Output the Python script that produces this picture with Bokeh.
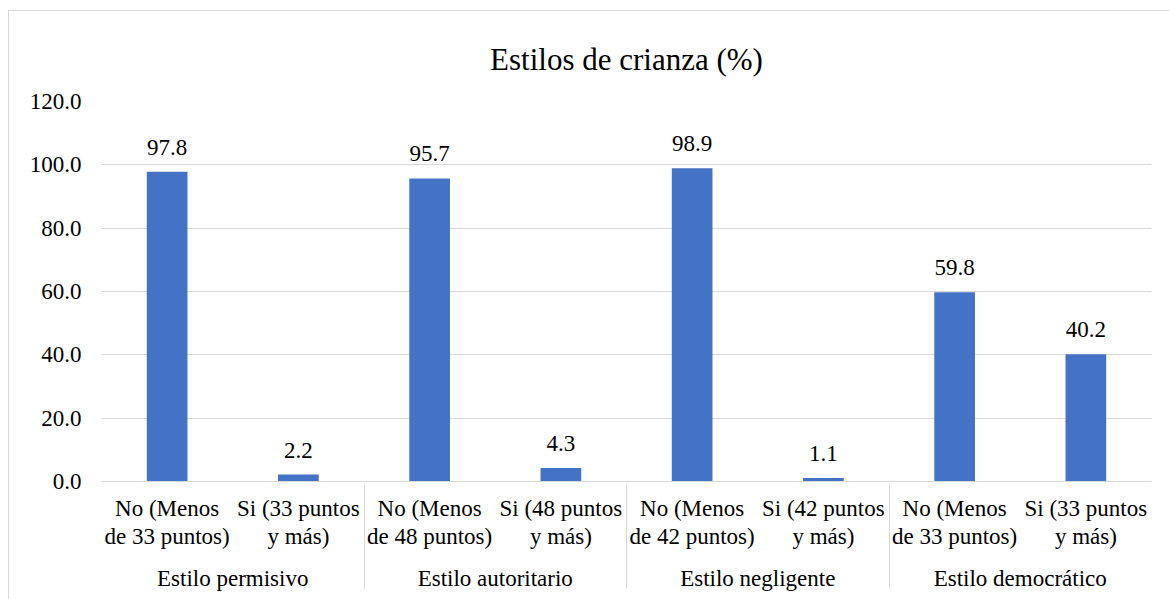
from bokeh.plotting import figure
from bokeh.models import FactorRange, ColumnDataSource, LabelSet, FixedTicker, NumeralTickFormatter
from bokeh.embed import file_html
from bokeh.resources import INLINE

# ---- data ----
title_text = "Estilos de crianza (%)"
groups = ["Estilo permisivo", "Estilo autoritario", "Estilo negligente", "Estilo democrático"]
sub_no = ["No (Menos\nde 33 puntos)", "No (Menos\nde 48 puntos)", "No (Menos\nde 42 puntos)", "No (Menos\nde 33 puntos)"]
sub_si = ["Si (33 puntos\ny más)", "Si (48 puntos\ny más)", "Si (42 puntos\ny más)", "Si (33 puntos\ny más)"]
values_no = [97.8, 95.7, 98.9, 59.8]
values_si = [2.2, 4.3, 1.1, 40.2]
y_ticks = [0, 20, 40, 60, 80, 100, 120]

factors = []
vals = []
for g, n, s, vn, vs in zip(groups, sub_no, sub_si, values_no, values_si):
    factors.append((g, n)); vals.append(vn)
    factors.append((g, s)); vals.append(vs)
labels = [f"{v:.1f}" for v in vals]

src = ColumnDataSource(dict(x=factors, top=vals, label=labels))

FONT = "Liberation Serif"
BLUE = "#4472C4"
GRID = "#d9d9d9"

p = figure(
    x_range=FactorRange(*factors, range_padding=0, factor_padding=0,
                        subgroup_padding=0, group_padding=0),
    y_range=(0, 120),
    width=1161, height=589,
    output_backend="svg", toolbar_location=None, tools="",
    min_border_left=92, min_border_right=19, min_border_top=90, min_border_bottom=119,
)
p.styles = {"margin-left": "8px", "margin-top": "10px",
            "border-top": f"1px solid {GRID}", "border-left": f"1px solid {GRID}"}
p.outline_line_color = None

p.title.text = title_text
p.title.text_font = FONT
p.title.text_font_size = "31px"
p.title.text_font_style = "normal"
p.title.text_color = "#000000"
p.title.align = "center"
p.title.standoff = 50

p.vbar(x="x", top="top", width=0.31, source=src, fill_color=BLUE, line_color=None)

p.add_layout(LabelSet(x="x", y="top", text="label", source=src, y_offset=17,
                      text_align="center", text_baseline="alphabetic",
                      text_font=FONT, text_font_size="23px", text_color="#000000"))

# grids
p.xgrid.grid_line_color = None
p.ygrid.grid_line_color = GRID
p.ygrid.grid_line_width = 1

# y axis
ya = p.yaxis[0]
ya.ticker = FixedTicker(ticks=y_ticks)
ya.formatter = NumeralTickFormatter(format="0.0")
ya.axis_line_color = None
ya.major_tick_line_color = None
ya.minor_tick_line_color = None
ya.major_tick_out = 0
ya.major_tick_in = 0
ya.major_label_standoff = 20
ya.major_label_text_font = FONT
ya.major_label_text_font_size = "23px"
ya.major_label_text_color = "#000000"

# x axis
xa = p.xaxis[0]
xa.axis_line_color = GRID
xa.axis_line_width = 1
xa.major_tick_line_color = None
xa.major_tick_out = 0
xa.major_tick_in = 0
xa.minor_tick_line_color = None
xa.major_label_standoff = 14
xa.major_label_orientation = "horizontal"
xa.major_label_text_font = FONT
xa.major_label_text_font_size = "23px"
xa.major_label_text_color = "#000000"
xa.major_label_text_line_height = 1.15
xa.group_text_font = FONT
xa.group_text_font_size = "23px"
xa.group_text_font_style = "normal"
xa.group_text_color = "#000000"
xa.separator_line_color = GRID
xa.separator_line_width = 1

open("out.html", "w").write(file_html(p, INLINE))
